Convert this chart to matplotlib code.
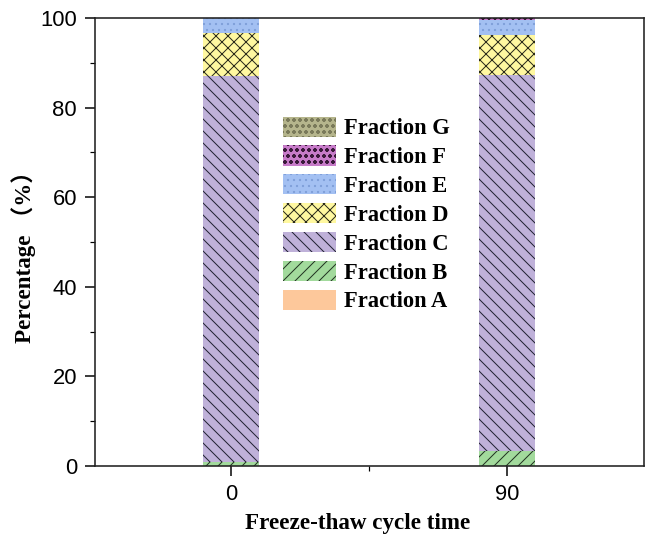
import matplotlib
matplotlib.use("Agg")
import matplotlib.pyplot as plt
import numpy as np
from matplotlib.ticker import MultipleLocator, FixedLocator

categories = ["0", "90"]
fraction_names = ["Fraction A", "Fraction B", "Fraction C", "Fraction D",
                  "Fraction E", "Fraction F", "Fraction G"]
frac_A = [0.0, 0.0]
frac_B = [1.0, 3.4]
frac_C = [86.1, 83.9]
frac_D = [9.5, 8.9]
frac_E = [3.4, 3.4]
frac_F = [0.0, 0.3]
frac_G = [0.0, 0.1]
values = [frac_A, frac_B, frac_C, frac_D, frac_E, frac_F, frac_G]

colors = ["#FDC89B", "#A2DA9C", "#BFB1D9", "#FFF8A0", "#A3C0F2", "#C77BC9", "#B5B58C"]
hatches = ["", "//", "\\\\", "xx", "..", "oo", "oo"]
hatch_cols = ["#FDC89B", "#223322", "#222233", "#2a2a1a", "#7f9fd8", "#3a1a3a", "#7a7a5a"]

plt.rcParams['hatch.linewidth'] = 1.0
fig = plt.figure(figsize=(646/72, 545/72), dpi=72)
ax = fig.add_axes([95/646, 79/545, 549/646, 448/545])

x = np.arange(len(categories))
bottom = np.zeros(len(categories))
handles = []
for name, vals, c, h, hc in zip(fraction_names, values, colors, hatches, hatch_cols):
    b = ax.bar(x, vals, width=0.2, bottom=bottom, color=c, hatch=h,
               edgecolor=hc, linewidth=0, label=name)
    handles.append(b)
    bottom += np.array(vals)

ax.set_xlim(-0.493, 1.496)
ax.set_ylim(0, 100)
ax.set_xticks(x)
ax.set_xticklabels(categories, family="Liberation Sans", fontsize=22)
ax.xaxis.set_minor_locator(FixedLocator([0.5]))
ax.yaxis.set_major_locator(MultipleLocator(20))
ax.yaxis.set_minor_locator(MultipleLocator(10))
for lab in ax.get_yticklabels():
    lab.set_family("Liberation Sans")
    lab.set_fontsize(22)
ax.tick_params(which='major', direction='out', length=10, width=1.5, labelsize=22, pad=8)
ax.tick_params(which='minor', direction='out', length=5, width=1.2)
ax.tick_params(axis='x', which='both', top=False)
ax.tick_params(axis='y', which='both', right=False)
for s in ax.spines.values():
    s.set_linewidth(1.6)
    s.set_color("#222222")

ax.set_xlabel("Freeze-thaw cycle time", family=["Liberation Serif"], fontweight="bold",
              fontsize=23)
ax.xaxis.set_label_coords(0.479, -0.105)
ax.set_ylabel("Percentage （%）", family=["Liberation Serif", "Noto Sans CJK SC"],
              fontweight="bold", fontsize=23)
ax.yaxis.set_label_coords(-0.107, 0.478)

leg = ax.legend(handles[::-1], fraction_names[::-1], loc="upper left",
                bbox_to_anchor=(0.342, 0.78), frameon=False,
                prop={"family": "Liberation Serif", "weight": "bold", "size": 22.5},
                handlelength=2.35, handleheight=1.0, handletextpad=0.36,
                labelspacing=0.27, borderpad=0, borderaxespad=0)

fig.savefig("out.png", dpi=72)
